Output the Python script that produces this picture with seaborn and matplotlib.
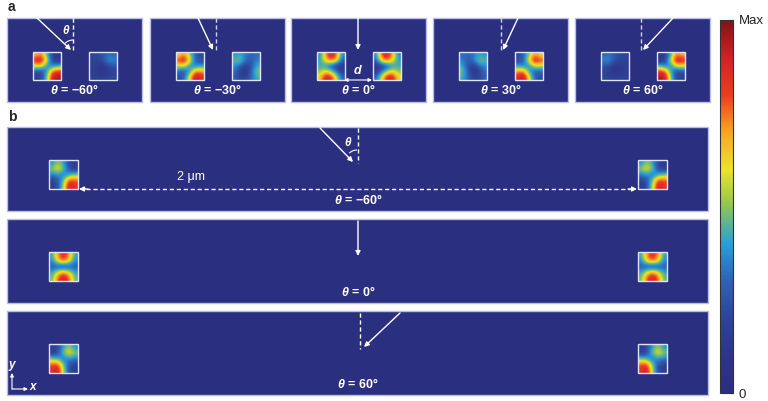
import matplotlib.pyplot as plt
import seaborn as sns
import numpy as np
from matplotlib.patches import Rectangle, Arc
from matplotlib.cm import ScalarMappable
from matplotlib.colors import Normalize

sns.set_theme(style="white")
plt.rcParams['font.family'] = ['Liberation Sans', 'DejaVu Sans']
plt.rcParams['mathtext.fontset'] = 'custom'
plt.rcParams['mathtext.it'] = 'Liberation Sans:italic:bold'
plt.rcParams['mathtext.rm'] = 'Liberation Sans:bold'

# ---- data: intensity maps (rows top -> bottom, 0..1 of Max) ----
angles_a = ["−60°", "−30°", "0°", "30°", "60°"]
angles_b = ["−60°", "0°", "60°"]

a_m60_left = [[0.65, 0.75, 0.45, 0.18, 0.12],
              [0.88, 0.93, 0.60, 0.20, 0.12],
              [0.60, 0.62, 0.35, 0.35, 0.45],
              [0.25, 0.20, 0.40, 0.80, 0.85],
              [0.18, 0.20, 0.50, 0.92, 0.95]]
a_m60_right = [[0.20, 0.22, 0.26, 0.32, 0.30],
               [0.20, 0.20, 0.24, 0.40, 0.36],
               [0.18, 0.15, 0.10, 0.22, 0.25],
               [0.18, 0.12, 0.10, 0.15, 0.20],
               [0.20, 0.18, 0.18, 0.20, 0.22]]
a_m30_left = [[0.60, 0.72, 0.50, 0.28, 0.22],
              [0.82, 0.93, 0.62, 0.28, 0.22],
              [0.55, 0.58, 0.35, 0.35, 0.40],
              [0.30, 0.25, 0.42, 0.78, 0.72],
              [0.22, 0.30, 0.65, 0.95, 0.85]]
a_m30_right = [[0.38, 0.42, 0.32, 0.30, 0.32],
               [0.46, 0.50, 0.32, 0.28, 0.36],
               [0.38, 0.30, 0.15, 0.26, 0.44],
               [0.32, 0.15, 0.10, 0.32, 0.50],
               [0.30, 0.20, 0.20, 0.32, 0.44]]
a_0_left = [[0.35, 0.70, 0.92, 0.78, 0.35],
            [0.40, 0.62, 0.80, 0.65, 0.28],
            [0.42, 0.38, 0.22, 0.15, 0.12],
            [0.50, 0.65, 0.55, 0.32, 0.15],
            [0.62, 0.90, 0.88, 0.58, 0.30]]
a_0_right = [[0.35, 0.78, 0.92, 0.70, 0.35],
             [0.28, 0.65, 0.80, 0.62, 0.40],
             [0.12, 0.15, 0.22, 0.38, 0.42],
             [0.15, 0.32, 0.55, 0.65, 0.50],
             [0.30, 0.58, 0.88, 0.90, 0.62]]
a_30_left = [[0.32, 0.30, 0.32, 0.42, 0.38],
             [0.36, 0.28, 0.32, 0.50, 0.46],
             [0.44, 0.26, 0.15, 0.30, 0.38],
             [0.50, 0.32, 0.10, 0.15, 0.32],
             [0.44, 0.32, 0.20, 0.20, 0.30]]
a_30_right = [[0.22, 0.28, 0.50, 0.72, 0.60],
              [0.22, 0.28, 0.62, 0.93, 0.82],
              [0.40, 0.35, 0.35, 0.58, 0.55],
              [0.72, 0.78, 0.42, 0.25, 0.30],
              [0.85, 0.95, 0.65, 0.30, 0.22]]
a_60_left = [[0.30, 0.32, 0.26, 0.22, 0.20],
             [0.36, 0.40, 0.24, 0.20, 0.20],
             [0.25, 0.22, 0.10, 0.15, 0.18],
             [0.20, 0.15, 0.10, 0.12, 0.18],
             [0.22, 0.20, 0.18, 0.18, 0.20]]
a_60_right = [[0.12, 0.18, 0.45, 0.75, 0.65],
              [0.12, 0.20, 0.60, 0.93, 0.88],
              [0.45, 0.35, 0.35, 0.62, 0.60],
              [0.85, 0.80, 0.40, 0.20, 0.25],
              [0.95, 0.92, 0.50, 0.20, 0.18]]

b_m60 = [[0.35, 0.52, 0.40, 0.22, 0.15],
         [0.50, 0.64, 0.50, 0.22, 0.15],
         [0.35, 0.40, 0.30, 0.42, 0.48],
         [0.18, 0.25, 0.48, 0.82, 0.78],
         [0.15, 0.22, 0.55, 0.94, 0.82]]
b_0 = [[0.40, 0.72, 0.88, 0.72, 0.40],
       [0.35, 0.65, 0.82, 0.65, 0.35],
       [0.28, 0.22, 0.15, 0.22, 0.28],
       [0.40, 0.60, 0.75, 0.60, 0.40],
       [0.45, 0.78, 0.92, 0.78, 0.45]]
b_60 = [[0.15, 0.22, 0.40, 0.52, 0.35],
        [0.15, 0.22, 0.50, 0.64, 0.50],
        [0.48, 0.42, 0.30, 0.40, 0.35],
        [0.78, 0.82, 0.48, 0.25, 0.18],
        [0.82, 0.94, 0.55, 0.22, 0.15]]

maps_a = [(a_m60_left, a_m60_right), (a_m30_left, a_m30_right), (a_0_left, a_0_right),
          (a_30_left, a_30_right), (a_60_left, a_60_right)]
maps_b = [b_m60, b_0, b_60]

# ---- style ----
navy = "#2b2f7f"
edge = "#b9bde9"
cmap = sns.blend_palette(["#2b2e7e", "#2c3589", "#2e4497", "#2f62b5", "#2a9ed8",
                          "#8cc458", "#ece425", "#f5a623", "#ee3b24", "#d42027",
                          "#7d1518"], as_cmap=True)

fig = plt.figure(figsize=(7.68, 4.01), dpi=100)
ax = fig.add_axes([0, 0, 1, 1])


def box(x0, y0, w, h):
    ax.add_patch(Rectangle((x0, y0), w, h, facecolor=navy, edgecolor=edge, lw=1, zorder=1))


def inset(data, x0, y0, s):
    ax.imshow(np.array(data), cmap=cmap, vmin=0, vmax=1, interpolation='bicubic',
              extent=(x0, x0 + s, y0 + s, y0), aspect='auto', zorder=2)
    ax.add_patch(Rectangle((x0, y0), s, s, fill=False, edgecolor="#dfe2fb", lw=1, zorder=3))


def arrow(p0, p1, ls='-'):
    ax.annotate("", xy=p1, xytext=p0,
                arrowprops=dict(arrowstyle='-|>', color='white', lw=1, mutation_scale=7,
                                shrinkA=0, shrinkB=0, linestyle=ls), zorder=4)


def dashed(x, y0, y1, color='white'):
    ax.plot([x, x], [y0, y1], color=color, lw=1, ls=(0, (3, 2)), zorder=4)


def label(x, y, txt):
    ax.text(x, y, r"$\theta$ = " + txt, color='white', fontsize=9, fontweight='bold',
            ha='center', va='center', zorder=5)


# ---- panel a ----
lefts_a = [7, 150, 291, 433, 575]
for i, x0 in enumerate(lefts_a):
    box(x0, 18, 135, 84)
    cx = x0 + 67.5
    inset(maps_a[i][0], cx - 42, 52, 28)
    inset(maps_a[i][1], cx + 14, 52, 28)
    label(cx, 90, angles_a[i])

dashed(73, 18, 52)
arrow((37, 18), (71, 50))
ax.add_patch(Arc((73, 51), 22, 22, theta1=223, theta2=270, color='white', lw=0.8, zorder=4))
ax.text(66, 31, r"$\theta$", color='white', fontsize=8.5, ha='center', va='center')
dashed(216, 18, 52, "#d0d4f4")
arrow((198, 18), (213, 50))
arrow((358, 18), (358, 50))
ax.annotate("", xy=(344, 80), xytext=(372, 80),
            arrowprops=dict(arrowstyle='<|-|>', color='white', lw=0.8, mutation_scale=5,
                            shrinkA=0, shrinkB=0), zorder=4)
ax.text(358, 71, r"$d$", color='white', fontsize=9, ha='center', va='center')
dashed(501, 18, 52, "#d0d4f4")
arrow((518, 18), (503, 50))
dashed(641, 18, 52, "#d0d4f4")
arrow((673, 18), (643, 50))

# ---- panel b ----
tops_b = [127, 219, 311]
for i, y0 in enumerate(tops_b):
    box(7, y0, 701, 84)
    inset(maps_b[i], 49, y0 + 33, 29)
    inset(maps_b[i], 638, y0 + 33, 29)
    label(358, y0 + 73, angles_b[i])

dashed(358, 128, 163)
arrow((320, 128), (353, 162))
ax.add_patch(Arc((357, 161), 22, 22, theta1=226, theta2=270, color='white', lw=0.8, zorder=4))
ax.text(348, 142, r"$\theta$", color='white', fontsize=8.5, ha='center', va='center')
ax.plot([86, 630], [189, 189], color='white', lw=1, ls=(0, (3, 2)), zorder=4)
arrow((88, 189), (79, 189))
arrow((628, 189), (637, 189))
ax.text(191, 177, "2 μm", color='white', fontsize=9, ha='center', va='center')

arrow((358, 221), (358, 256))
dashed(360, 313, 349)
arrow((400, 313), (364, 347))

# axis indicator
ax.annotate("", xy=(12, 373), xytext=(12, 389),
            arrowprops=dict(arrowstyle='-|>', color='white', lw=0.8, mutation_scale=5,
                            shrinkA=0, shrinkB=0), zorder=4)
ax.annotate("", xy=(28, 389), xytext=(12, 389),
            arrowprops=dict(arrowstyle='-|>', color='white', lw=0.8, mutation_scale=5,
                            shrinkA=0, shrinkB=0), zorder=4)
ax.text(13, 366, r"$y$", color='white', fontsize=8.5, ha='center', va='center')
ax.text(34, 387, r"$x$", color='white', fontsize=8.5, ha='center', va='center')

ax.text(8, 7, "a", fontsize=10, fontweight='bold', ha='left', va='center')
ax.text(8, 117, "b", fontsize=10, fontweight='bold', ha='left', va='center')

ax.set_xlim(0, 768)
ax.set_ylim(401, 0)
ax.axis('off')

# ---- colour bar ----
cax = fig.add_axes([720 / 768, 1 - 393 / 401, 13 / 768, 373 / 401])
cb = fig.colorbar(ScalarMappable(norm=Normalize(0, 1), cmap=cmap), cax=cax)
cb.set_ticks(np.linspace(0, 1, 11))
cb.set_ticklabels(["0"] + [""] * 9 + ["Max"])
cax.tick_params(direction='in', length=3, width=0.8, color='#222222', labelsize=9.5, pad=4)
cb.outline.set_edgecolor('#333333')
cb.outline.set_linewidth(0.8)

fig.savefig("out.png", dpi=100)
